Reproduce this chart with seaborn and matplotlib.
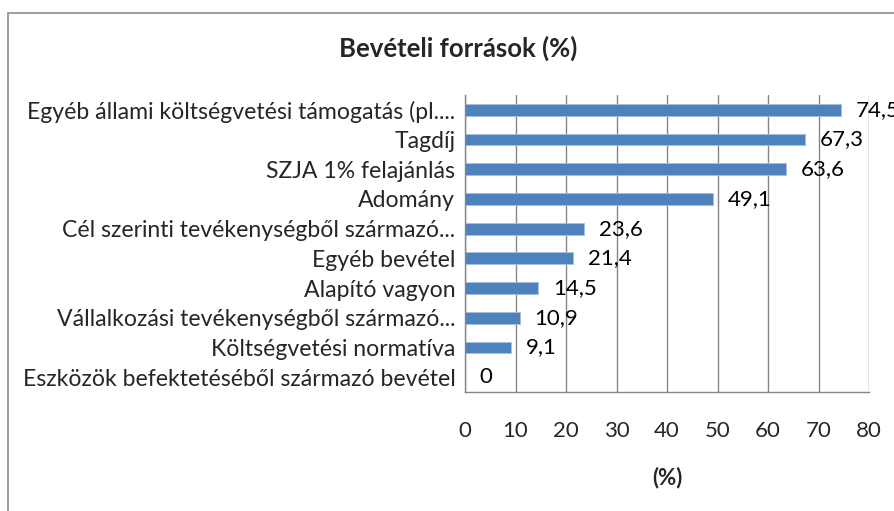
import matplotlib
matplotlib.use("Agg")
import matplotlib.pyplot as plt
import seaborn as sns
import pandas as pd
from matplotlib.patches import Rectangle

categories = [
    "Egyéb állami költségvetési támogatás (pl....",
    "Tagdíj",
    "SZJA 1% felajánlás",
    "Adomány",
    "Cél szerinti tevékenységből származó...",
    "Egyéb bevétel",
    "Alapító vagyon",
    "Vállalkozási tevékenységből származó...",
    "Költségvetési normatíva",
    "Eszközök befektetéséből származó bevétel",
]
values = [74.5, 67.3, 63.6, 49.1, 23.6, 21.4, 14.5, 10.9, 9.1, 0]
value_labels = ["74,5", "67,3", "63,6", "49,1", "23,6", "21,4", "14,5", "10,9", "9,1", "0"]
xticks = [0, 10, 20, 30, 40, 50, 60, 70, 80]

sns.set_theme(style="white")
plt.rcParams['font.family'] = ['Lato', 'DejaVu Sans']

df = pd.DataFrame({"cat": categories, "val": values})

fig = plt.figure(figsize=(8.94, 5.11), dpi=100)
ax = fig.add_axes([465/894, 1-392/511, (869-465)/894, (392-95)/511])

sns.barplot(data=df, y="cat", x="val", orient="h", color="#4F81BD",
            width=0.4, ax=ax, edgecolor="#A7BFDE", linewidth=0.6, saturation=1)

FS = 16
ax.set_xlim(0, 80)
ax.set_ylim(9.5, -0.5)
ax.set_xticks(xticks)
ax.set_xticklabels([str(t) for t in xticks], fontsize=FS)
ax.tick_params(axis="x", direction="out", length=5, width=1, color="#868686", pad=16)
ax.set_yticks(range(len(categories)))
ax.set_yticklabels(categories, fontsize=16.6)
ax.tick_params(axis="y", which="major", length=0, pad=7)
ax.set_yticks([i - 0.5 for i in range(len(categories) + 1)], minor=True)
ax.tick_params(axis="y", which="minor", direction="out", length=5, width=1, color="#868686")
ax.grid(axis="x", color="#868686", linewidth=1)
ax.set_axisbelow(True)
for s in ["top", "right"]:
    ax.spines[s].set_visible(False)
for s in ["left", "bottom"]:
    ax.spines[s].set_color("#868686")
    ax.spines[s].set_linewidth(1)

ax.set_ylabel("")
ax.set_xlabel("(%)", fontsize=FS, fontweight="bold", labelpad=18)

for i, (v, lab) in enumerate(zip(values, value_labels)):
    ax.annotate(lab, xy=(v, i), xytext=(10.5, 0), textcoords="offset points",
                ha="left", va="center", fontsize=FS, color="black", annotation_clip=False)

fig.text(458/894, 1-48/511, "Bevételi források (%)", ha="center", va="center",
         fontsize=18.5, fontweight="bold")

fig.patches.append(Rectangle((8/894, -0.05), 1.2, 1-13/511+0.05, transform=fig.transFigure,
                             fill=False, edgecolor="#8C8C8C", linewidth=1.2, clip_on=False))

fig.savefig("out.png", dpi=100, facecolor="white")
